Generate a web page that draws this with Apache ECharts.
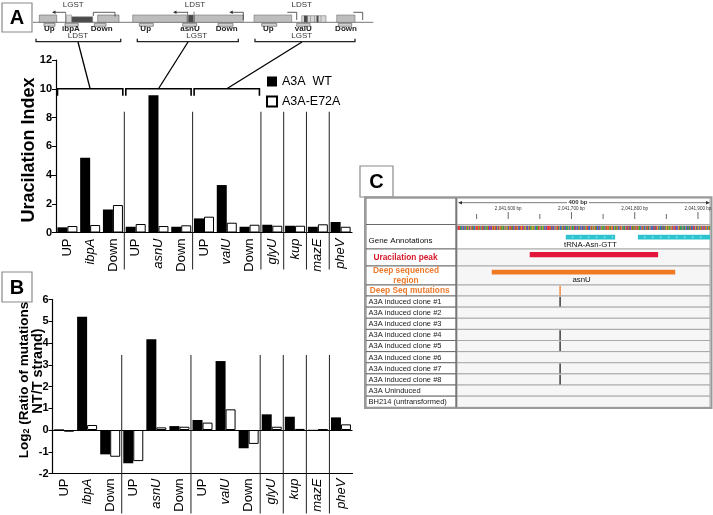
<!DOCTYPE html>
<html><head><meta charset="utf-8">
<script src="https://cdn.jsdelivr.net/npm/echarts@6/dist/echarts.min.js"></script>
<style>html,body{margin:0;padding:0;background:#fff}#c{width:713px;height:515px}</style>
</head><body><div id="c"></div>
<script>
// ================= DATA =================
const categories   = ['UP','ibpA','Down','UP','asnU','Down','UP','valU','Down','glyU','kup','mazE','pheV'];
const italicCats   = [false,true,false,false,true,false,false,true,false,true,true,true,true];
const seriesNames  = ['A3A  WT','A3A-E72A'];
const uracilWT     = [0.36,5.2,1.6,0.4,9.55,0.4,0.98,3.3,0.4,0.54,0.47,0.4,0.73];
const uracilE72A   = [0.45,0.52,1.91,0.59,0.45,0.5,1.1,0.68,0.54,0.47,0.47,0.57,0.4];
const log2WT       = [0.03,5.21,-1.12,-1.53,4.17,0.18,0.46,3.17,-0.84,0.72,0.61,0.01,0.58];
const log2E72A     = [-0.08,0.23,-1.23,-1.43,0.12,0.15,0.34,0.95,-0.64,0.15,0.05,0.03,0.26];
const groupBreaks  = [2,5,8,9,10,11];      // separator after these category indices
const bracketGroups= [[0,2],[3,5],[6,8]];  // ibpA, asnU, valU regions
const yAxisA = {min:0, max:12, interval:2};
const yAxisB = {min:-2, max:6, interval:1};

// Panel C (genome browser)
const genomeMin = 2041519, genomeMax = 2041919;
const scaleTicks = [2041550,2041600,2041650,2041700,2041750,2041800,2041850,2041900];
const scaleLabelTicks = [2041600,2041700,2041800,2041900];
const trackLabels = ['', 'Gene Annotations', 'Uracilation peak', 'Deep sequenced\nregion', 'Deep Seq mutations',
  'A3A induced clone #1','A3A induced clone #2','A3A induced clone #3','A3A induced clone #4',
  'A3A induced clone #5','A3A induced clone #6','A3A induced clone #7','A3A induced clone #8',
  'A3A Uninduced','BH214 (untransformed)'];
const geneFeatures   = [[2041691,2041769],[2041805,2041919]];
const geneNames      = ['tRNA-Asn-GTT',''];
const uracilPeaks    = [[2041634,2041837]];
const deepRegions    = [[2041574,2041864]];
const deepRegionName = 'asnU';
const mutationPos    = 2041682;
const mutationTracks = [4,5,8,9,11,12];
const refSeq =
 'GCTTTAACGCCAGCGTAAGCTGGCTAACCGTTTGATGCGATTCAGCAGAT'+
 'TCCTCTGTAGTTCAGTCGGTAGAACGGCGGACTGTTAATCCGTATGTCAC'+
 'TGGTTCGAGTCCAGTCAGAGGAGCCAAATTGCGAAGAGCCGCTTTTTTGC'+
 'ATCCGGCGTTACGCCAGTACTCAAACGACGGCAAATTCCGCATAGCGCCA'+
 'TCGAGTTCACCGTAGCGGATACCTACGCGAAAGCGATTGTGAATGGTCAG'+
 'AATGACGCTGGCGAACGTCTTATCCGTAATAGTGCTGAAACGCTGACCGA'+
 'TTACGCGCACTCTACTGGCGACCATCATCAGGTAGAAGCGTGCGTTCCCG'+
 'GTAACAGCAACGCCATCAATCACTTCGGTCAGGCGATGCTGCGTGACGTA';

// ================= LAYOUT / STYLE =================
const FONT = "'Liberation Sans', Arial, Helvetica, sans-serif";
const gridA = {left:56, top:60, width:296, height:172.5};
const gridB = {left:52.5, top:299.5, width:300, height:174};
const gridC = {left:457, top:198, width:253, height:209.3};
const trackHeights = [26.5,24.5,17,19,11,11.13,11.13,11.13,11.13,11.13,11.13,11.13,11.13,11.13,11.13];
const trackTops = []; {let s=0; trackHeights.forEach(h=>{trackTops.push(s); s+=h;});}
const cTotal = trackTops[trackTops.length-1] + trackHeights[trackHeights.length-1];
const diagramAnchors = [[78,42],[188,42],[302,42]];
const baseColors = {A:'#1f9a1f', C:'#2a3fe0', G:'#d1861a', T:'#e02020'};

// ================= GRAPHIC (decorations) =================
const G = [];
function rect(x,y,w,h,fill,stroke,lw,z){G.push({type:'rect',z:z||1,silent:true,shape:{x:x,y:y,width:w,height:h},style:{fill:fill||'none',stroke:stroke||null,lineWidth:lw||0}});}
function line(x1,y1,x2,y2,stroke,lw,z){G.push({type:'line',z:z||1,silent:true,shape:{x1:x1,y1:y1,x2:x2,y2:y2},style:{stroke:stroke,lineWidth:lw||1}});}
function poly(points,stroke,lw){G.push({type:'polyline',z:1,silent:true,shape:{points:points},style:{stroke:stroke,lineWidth:lw||1,fill:null}});}
function tri(points,fill){G.push({type:'polygon',z:1,silent:true,shape:{points:points},style:{fill:fill}});}
function text(x,y,t,font,fill,align,valign,rot,extra){
  const st = Object.assign({text:t,font:font,fill:fill,align:align||'center',verticalAlign:valign||'middle',
    textAlign:align||'center',textVerticalAlign:valign||'middle'}, extra||{});
  G.push({type:'text',z:3,silent:true,x:x,y:y,rotation:rot||0,style:st});
}
function panelLabel(x,y,w,h,t){rect(x,y,w,h,'#fff','#8a8a8a',1.2,3); text(x+w/2,y+h/2+1,t,'bold 20px '+FONT,'#000');}
panelLabel(2,3,30,29,'A'); panelLabel(2,272,30,30,'B'); panelLabel(360,166,33,31,'C');

// --- gene diagrams (panel A top) ---
const LG='#bdbdbd', DK='#4a4a4a', HT='#cfcfcf', LN='#777';
function hatch(x1,x2){rect(x1,23.3,x2-x1,3,HT,'#555',0.6);}
function lbl(x,t){text(x,28.6,t,'bold 8px '+FONT,'#222');}
function arrowL(x,y){tri([[x,y],[x+3.5,y-1.8],[x+3.5,y+1.8]],'#333');}
// diagram 1 (ibpA)
line(33,22.3,128,22.3,LN,1);
rect(39.3,15,17.4,7.3,LG,'#666',0.6); rect(66.5,15,5.2,7.3,'#d8d8d8','#888',0.5);
rect(71.7,16.7,21,5.6,DK,'#888',0.5); rect(97.7,15,21.3,7.3,LG,'#666',0.6);
hatch(44,55); hatch(65,78.3); hatch(94.3,106);
lbl(49.3,'Up'); lbl(71,'ibpA'); lbl(101.7,'Down');
text(73.3,5,'LGST','8px '+FONT,'#333');
line(53,12.3,65.7,12.3,'#333',0.8); arrowL(52,12.3); line(65.7,12.3,65.7,22.3,'#555',0.8);
poly([[93.3,16],[93.3,12.3],[115,12.3],[115,16.5]],'#333',0.8);
poly([[36,38.8],[36,41.7],[120.7,41.7],[120.7,38.8]],'#222',1.3); text(78,36,'LDST','8px '+FONT,'#333');
// diagram 2 (asnU)
line(128,22.3,250,22.3,LN,1);
rect(132.7,15,54,7.3,LG,'#777',0.6); rect(194.5,15,48.8,7.3,LG,'#777',0.6);
rect(188.3,15,5,7.3,DK,'#666',0.5);
line(187.6,11.7,187.6,22.3,'#444',0.7); line(194,11.7,194,22.3,'#444',0.7);
hatch(139.3,153.3); hatch(182.7,196.7); hatch(218,233);
lbl(145.7,'Up'); lbl(190,'asnU'); lbl(226.7,'Down');
text(195,5,'LDST','8px '+FONT,'#333');
line(174,12.3,187.6,12.3,'#333',0.8); arrowL(173,12.3);
poly([[230.3,12.3],[243.3,12.3],[243.3,20]],'#333',0.8); arrowL(229.3,12.3);
poly([[137.3,38.8],[137.3,41.7],[238.3,41.7],[238.3,38.8]],'#222',1.3); text(196.7,36,'LGST','8px '+FONT,'#333');
// diagram 3 (valU)
line(250,22.3,373.3,22.3,LN,1);
rect(254,15,37.7,7.3,LG,'#777',0.6);
poly([[287.3,12.3],[296.7,12.3],[296.7,20]],'#333',0.8);
rect(301.7,15.7,24.3,6.6,'#d5d5d5','#666',0.5);
rect(304,15.7,3.6,6.6,DK,null,0); rect(316.5,15.7,2,6.6,DK,null,0);
line(310.5,15.7,310.5,22.3,'#777',0.5); line(314.5,15.7,314.5,22.3,'#777',0.5); line(321,15.7,321,22.3,'#777',0.5);
rect(336.7,15,18.3,7.3,LG,'#777',0.6);
poly([[353.3,12.3],[362.7,12.3],[362.7,20]],'#333',0.8);
hatch(261.7,276.7); hatch(296.7,310); hatch(338.3,351.7);
lbl(268.3,'Up'); lbl(303.3,'valU'); lbl(346,'Down');
text(301.7,5,'LDST','8px '+FONT,'#333');
poly([[255,38.8],[255,41.7],[355,41.7],[355,38.8]],'#222',1.3); text(301.7,36,'LGST','8px '+FONT,'#333');

// --- axis titles ---
text(29,150,'Uracilation Index','bold 18px '+FONT,'#000','center','middle',Math.PI/2);
G.push({type:'text',z:3,silent:true,x:31,y:380,rotation:Math.PI/2,style:{
  text:'{b|Log}{s|2}{b| (Ratio of mutations}\n{c|NT/T strand)}',
  align:'center',verticalAlign:'middle',textAlign:'center',textVerticalAlign:'middle',
  rich:{b:{font:'bold 13.5px '+FONT,fill:'#000',color:'#000',lineHeight:13},
        c:{font:'bold 14.5px '+FONT,fill:'#000',color:'#000',lineHeight:13,padding:[0,0,0,18]},
        s:{font:'bold 9px '+FONT,fill:'#000',color:'#000',lineHeight:13,verticalAlign:'bottom',padding:[6,0,0,0]}}}});

// --- panel C table ---
const cX0 = 366, cLabelW = 90;
trackLabels.forEach(function(lab,i){
  const y0 = gridC.top + trackTops[i], h = trackHeights[i];
  rect(cX0, y0, cLabelW, h, '#fff', '#555', 0.8, 0);
  rect(gridC.left, y0, gridC.width, h, i>=2 ? '#f6f6f6' : '#fff', '#9d9d9d', 0.8, 0);
  if(!lab) return;
  if(i===1) text(368.5, y0+16.5, lab, '8px '+FONT, '#111', 'left');
  else if(i===2) text(405.5, y0+9, lab, 'bold 8.3px '+FONT, '#d4192c');
  else if(i===3) text(406, y0+9.5, lab, 'bold 8.3px '+FONT, '#ec7a2c','center','middle',0,{lineHeight:9.5});
  else if(i===4) text(409.7, y0+5.8, lab, 'bold 8.3px '+FONT, '#ec7a2c');
  else text(368.5, y0+h/2+0.3, lab, '7.5px '+FONT, '#1a1a1a', 'left');
});
rect(365,197.3,346.5,210.8,null,'#9a9a9a',2,4);
line(456.3,198,456.3,407.3,'#777',1.5,4);
// scale header
text(578,202.7,'400 bp','bold 6px '+FONT,'#333');
line(460,202.7,567,202.7,'#555',0.8); line(589,202.7,707,202.7,'#555',0.8);
tri([[458,202.7],[462,201],[462,204.4]],'#333'); tri([[710,202.7],[706,201],[706,204.4]],'#333');

// ================= SERIES =================
function sepRender(topVal, below){
  return function(params, api){
    const i = api.value(0);
    const p1 = api.coord([i, 0]), p2 = api.coord([i+1, 0]);
    const x = (p1[0]+p2[0])/2;
    const yTop = api.coord([i, topVal])[1];
    const yBot = params.coordSys.y + params.coordSys.height + below;
    return {type:'line', shape:{x1:x,y1:yTop,x2:x,y2:yBot}, style:{stroke:'#222', lineWidth:1}};
  };
}
function bracketRender(params, api){
  const s = api.value(0), e = api.value(1), k = api.value(2);
  const ps = api.coord([s, 10]), pe = api.coord([e, 10]);
  const bw = api.coord([s+1,10])[0] - ps[0];
  const L = ps[0]-bw/2+1.5, R = pe[0]+bw/2-1.5, y = ps[1];
  const cx = (ps[0]+pe[0])/2;
  return {type:'group', children:[
    {type:'polyline', shape:{points:[[L,y+7],[L,y],[R,y],[R,y+7]]}, style:{stroke:'#000',lineWidth:1.6,fill:null}},
    {type:'line', shape:{x1:cx,y1:y,x2:diagramAnchors[k][0],y2:diagramAnchors[k][1]}, style:{stroke:'#000',lineWidth:1.3}}
  ]};
}
const labelFmt = function(v, i){ return italicCats[i] ? '{i|'+v+'}' : '{n|'+v+'}'; };
const labelRich = {n:{fontSize:13,color:'#000',fontFamily:FONT}, i:{fontSize:13,color:'#000',fontFamily:FONT,fontStyle:'italic'}};
function catAxis(gi, below){
  return {gridIndex:gi, type:'category', data:categories, boundaryGap:true,
    axisLine:{onZero:false, lineStyle:{color:'#000',width:1.2}}, axisTick:{show:false},
    axisLabel:{interval:0, rotate:90, margin:below, formatter:labelFmt, rich:labelRich}, splitLine:{show:false}};
}
function valAxis(gi, cfg){
  return Object.assign({gridIndex:gi, type:'value', axisLine:{show:true,lineStyle:{color:'#000',width:1.2}},
    axisTick:{show:true,length:4,lineStyle:{color:'#000'}}, splitLine:{show:false},
    axisLabel:{color:'#000',fontSize:11,fontWeight:'bold',fontFamily:FONT,margin:4}}, cfg);
}
const blackBar = {color:'#000'};
const whiteBar = {color:'#fff', borderColor:'#000', borderWidth:1};

const option = {
  animation:false,
  backgroundColor:'#fff',
  textStyle:{fontFamily:FONT},
  grid:[Object.assign({containLabel:false},gridA), Object.assign({containLabel:false},gridB), Object.assign({containLabel:false},gridC)],
  legend:{data:seriesNames, orient:'vertical', left:266, top:75, padding:0, itemWidth:10, itemHeight:10, itemGap:7, icon:'rect',
    textStyle:{fontSize:12.5, color:'#000', fontFamily:FONT}},
  xAxis:[catAxis(0,6), catAxis(1,5),
    {gridIndex:2, type:'value', min:genomeMin, max:genomeMax, show:false}],
  yAxis:[valAxis(0,yAxisA), valAxis(1,yAxisB),
    {gridIndex:2, type:'value', min:0, max:cTotal, inverse:true, show:false}],
  graphic:{elements:G},
  series:[
    {name:seriesNames[0], type:'bar', xAxisIndex:0, yAxisIndex:0, data:uracilWT, barWidth:10, barGap:'0%', itemStyle:blackBar},
    {name:seriesNames[1], type:'bar', xAxisIndex:0, yAxisIndex:0, data:uracilE72A, barWidth:10, barGap:'0%', itemStyle:whiteBar},
    {name:'WT log2', type:'bar', xAxisIndex:1, yAxisIndex:1, data:log2WT, barWidth:10, barGap:'0%', itemStyle:blackBar,
      markLine:{silent:true, symbol:'none', label:{show:false}, data:[{yAxis:0}], lineStyle:{color:'#000',type:'solid',width:1.2}}},
    {name:'E72A log2', type:'bar', xAxisIndex:1, yAxisIndex:1, data:log2E72A, barWidth:10, barGap:'0%', itemStyle:whiteBar},
    {type:'custom', xAxisIndex:0, yAxisIndex:0, silent:true, z:5, data:groupBreaks.map(b=>[b,0]), renderItem:sepRender(8.4, 37)},
    {type:'custom', xAxisIndex:1, yAxisIndex:1, silent:true, z:5, data:groupBreaks.map(b=>[b,0]), renderItem:sepRender(3.45, 40)},
    {type:'custom', xAxisIndex:0, yAxisIndex:0, silent:true, z:5, data:bracketGroups.map((g,k)=>[g[0],g[1],k]), renderItem:bracketRender},
    {type:'custom', xAxisIndex:2, yAxisIndex:2, silent:true, z:5, data:scaleTicks.map(t=>[t, 0]),
      renderItem:function(params, api){
        const t = api.value(0); const x = api.coord([t,0])[0];
        const major = scaleLabelTicks.indexOf(t) >= 0;
        const ch = [{type:'line', shape:{x1:x,y1:gridC.top+(major?14:16),x2:x,y2:gridC.top+21}, style:{stroke:'#444',lineWidth:0.8}}];
        if(major) ch.push({type:'text', style:{text:(t).toLocaleString('en-US')+' bp', x:x, y:gridC.top+11, font:'4.6px '+FONT, fill:'#333', align:'center', verticalAlign:'middle'}});
        return {type:'group', children:ch};
      }},
    {type:'custom', xAxisIndex:2, yAxisIndex:2, silent:true, z:5, data:refSeq.split('').map((b,i)=>[genomeMin+i, 'ACGT'.indexOf(b)]),
      renderItem:function(params, api){
        const p = api.value(0); const b = 'ACGT'[api.value(1)];
        const a = api.coord([p, trackTops[1]+1.2]), c = api.coord([p+1, trackTops[1]+5.6]);
        return {type:'rect', shape:{x:a[0], y:a[1], width:c[0]-a[0]+0.15, height:c[1]-a[1]}, style:{fill:baseColors[b]}};
      }},
    {type:'custom', xAxisIndex:2, yAxisIndex:2, silent:true, z:5,
      data:[].concat(geneFeatures.map((f,k)=>[f[0],f[1],1,0,k]), uracilPeaks.map(f=>[f[0],f[1],2,1,0]), deepRegions.map(f=>[f[0],f[1],3,2,0])),
      renderItem:function(params, api){
        const s = api.value(0), e = api.value(1), tr = api.value(2), kind = api.value(3), k = api.value(4);
        const off = [12.6,5.6,6.1][kind], hh = [4.6,5.2,4.6][kind], col = ['#2cc3cf','#e2163c','#f07a24'][kind];
        const a = api.coord([s, trackTops[tr]+off]), b = api.coord([e, trackTops[tr]+off]);
        const ch = [{type:'rect', shape:{x:a[0], y:a[1]-hh/2, width:b[0]-a[0], height:hh}, style:{fill:col}}];
        if(kind===0){
          for(let x=a[0]+6; x<b[0]-3; x+=8) ch.push({type:'line', shape:{x1:x,y1:a[1],x2:x+1.5,y2:a[1]}, style:{stroke:'#e8ffff',lineWidth:0.8}});
          if(geneNames[k]) ch.push({type:'text', style:{text:geneNames[k], x:(a[0]+b[0])/2, y:api.coord([s,trackTops[tr]+20.5])[1], font:'7.8px '+FONT, fill:'#111', align:'center', verticalAlign:'middle'}});
        }
        if(kind===2) ch.push({type:'text', style:{text:deepRegionName, x:api.coord([2041716,0])[0], y:api.coord([s,trackTops[tr]+14])[1], font:'7.8px '+FONT, fill:'#111', align:'center', verticalAlign:'middle'}});
        return {type:'group', children:ch};
      }},
    {type:'custom', xAxisIndex:2, yAxisIndex:2, silent:true, z:6, data:mutationTracks.map(t=>[mutationPos, t]),
      renderItem:function(params, api){
        const p = api.value(0), tr = api.value(1);
        const a = api.coord([p, trackTops[tr]+0.8]), b = api.coord([p, trackTops[tr]+trackHeights[tr]-0.6]);
        return {type:'line', shape:{x1:a[0],y1:a[1],x2:b[0],y2:b[1]}, style:{stroke: tr===4 ? '#ef7a26' : '#222', lineWidth:1.3}};
      }}
  ]
};
const chart = echarts.init(document.getElementById('c'), null, {renderer:'canvas'});
chart.setOption(option);
</script></body></html>
